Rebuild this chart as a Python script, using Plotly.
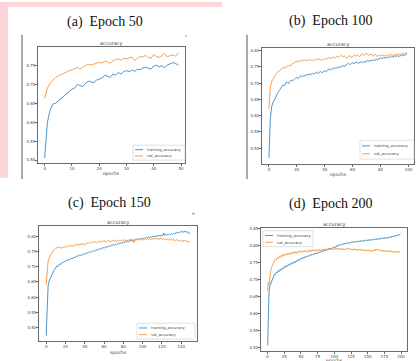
import plotly.graph_objects as go

# ---------------- data ----------------
panel_titles = ["(a)  Epoch 50", "(b)  Epoch 100", "(c)  Epoch 150", "(d)  Epoch 200"]
series_names = ["training_accuracy", "val_accuracy"]

train_a = [0.505, 0.600, 0.632, 0.648, 0.650, 0.656, 0.664, 0.670, 0.676, 0.680,
           0.687, 0.690, 0.700, 0.696, 0.694, 0.703, 0.708, 0.706, 0.704, 0.711,
           0.714, 0.716, 0.724, 0.720, 0.718, 0.727, 0.724, 0.731, 0.727, 0.734,
           0.736, 0.733, 0.738, 0.734, 0.740, 0.738, 0.743, 0.745, 0.742, 0.740,
           0.748, 0.750, 0.746, 0.749, 0.744, 0.751, 0.754, 0.757, 0.755, 0.750]
val_a = [0.663, 0.690, 0.703, 0.712, 0.718, 0.722, 0.726, 0.728, 0.733, 0.736,
         0.738, 0.741, 0.745, 0.740, 0.746, 0.750, 0.752, 0.751, 0.753, 0.755,
         0.758, 0.756, 0.761, 0.759, 0.755, 0.762, 0.764, 0.767, 0.763, 0.769,
         0.767, 0.770, 0.772, 0.762, 0.769, 0.773, 0.772, 0.776, 0.771, 0.769,
         0.778, 0.773, 0.771, 0.776, 0.781, 0.772, 0.776, 0.777, 0.774, 0.783]

train_b = [0.470, 0.590, 0.628, 0.642, 0.648, 0.660, 0.668, 0.676, 0.680, 0.688,
           0.694, 0.692, 0.700, 0.703, 0.698, 0.706, 0.709, 0.707, 0.712, 0.715,
           0.718, 0.714, 0.720, 0.723, 0.719, 0.724, 0.722, 0.727, 0.725, 0.728,
           0.726, 0.730, 0.728, 0.731, 0.734, 0.730, 0.733, 0.736, 0.732, 0.737,
           0.739, 0.735, 0.741, 0.744, 0.740, 0.743, 0.747, 0.744, 0.748, 0.746,
           0.750, 0.748, 0.752, 0.755, 0.751, 0.756, 0.758, 0.761, 0.757, 0.760,
           0.763, 0.760, 0.762, 0.765, 0.761, 0.764, 0.766, 0.763, 0.767, 0.765,
           0.768, 0.770, 0.766, 0.771, 0.769, 0.772, 0.770, 0.774, 0.772, 0.776,
           0.778, 0.775, 0.779, 0.777, 0.780, 0.778, 0.781, 0.779, 0.783, 0.780,
           0.784, 0.782, 0.785, 0.781, 0.786, 0.784, 0.787, 0.785, 0.789, 0.791]
val_b = [0.622, 0.688, 0.705, 0.714, 0.722, 0.728, 0.733, 0.737, 0.740, 0.744,
         0.747, 0.749, 0.746, 0.752, 0.755, 0.753, 0.758, 0.760, 0.762, 0.765,
         0.768, 0.764, 0.770, 0.767, 0.771, 0.769, 0.772, 0.768, 0.771, 0.773,
         0.770, 0.772, 0.769, 0.773, 0.775, 0.771, 0.774, 0.772, 0.770, 0.774,
         0.776, 0.773, 0.777, 0.779, 0.775, 0.778, 0.781, 0.777, 0.780, 0.783,
         0.779, 0.782, 0.786, 0.781, 0.784, 0.780, 0.777, 0.782, 0.785, 0.779,
         0.783, 0.786, 0.782, 0.788, 0.784, 0.781, 0.787, 0.791, 0.786, 0.789,
         0.792, 0.788, 0.785, 0.790, 0.787, 0.783, 0.789, 0.786, 0.782, 0.787,
         0.784, 0.788, 0.785, 0.783, 0.787, 0.784, 0.789, 0.786, 0.788, 0.785,
         0.789, 0.787, 0.790, 0.788, 0.791, 0.789, 0.792, 0.790, 0.793, 0.794]

train_c = [0.474, 0.600, 0.638, 0.652, 0.660, 0.668, 0.675, 0.682, 0.688, 0.692,
           0.698, 0.702, 0.700, 0.706, 0.709, 0.707, 0.712, 0.715, 0.713, 0.717,
           0.720, 0.718, 0.722, 0.725, 0.721, 0.726, 0.728, 0.725, 0.730, 0.732,
           0.729, 0.733, 0.736, 0.734, 0.737, 0.739, 0.736, 0.740, 0.742, 0.739,
           0.743, 0.745, 0.742, 0.746, 0.748, 0.745, 0.749, 0.751, 0.748, 0.752,
           0.754, 0.751, 0.755, 0.757, 0.754, 0.758, 0.760, 0.757, 0.761, 0.763,
           0.760, 0.764, 0.766, 0.763, 0.767, 0.769, 0.766, 0.770, 0.768, 0.771,
           0.773, 0.770, 0.774, 0.772, 0.775, 0.777, 0.774, 0.778, 0.776, 0.779,
           0.781, 0.778, 0.782, 0.780, 0.783, 0.781, 0.784, 0.786, 0.783, 0.787,
           0.785, 0.788, 0.786, 0.789, 0.791, 0.788, 0.792, 0.790, 0.793, 0.791,
           0.794, 0.792, 0.795, 0.793, 0.796, 0.794, 0.797, 0.795, 0.798, 0.796,
           0.799, 0.797, 0.800, 0.798, 0.801, 0.799, 0.802, 0.800, 0.803, 0.801,
           0.804, 0.802, 0.810, 0.803, 0.805, 0.803, 0.806, 0.804, 0.807, 0.805,
           0.808, 0.806, 0.809, 0.807, 0.810, 0.812, 0.809, 0.813, 0.811, 0.814,
           0.816, 0.812, 0.815, 0.813, 0.817, 0.814, 0.812, 0.815, 0.811, 0.806]
val_c = [0.640, 0.698, 0.718, 0.728, 0.735, 0.742, 0.747, 0.751, 0.755, 0.758,
         0.762, 0.760, 0.764, 0.761, 0.765, 0.763, 0.760, 0.764, 0.762, 0.766,
         0.763, 0.767, 0.765, 0.768, 0.766, 0.770, 0.767, 0.765, 0.769, 0.772,
         0.768, 0.771, 0.774, 0.770, 0.773, 0.771, 0.775, 0.772, 0.776, 0.774,
         0.770, 0.775, 0.778, 0.776, 0.779, 0.777, 0.780, 0.778, 0.781, 0.779,
         0.782, 0.780, 0.778, 0.781, 0.783, 0.780, 0.784, 0.781, 0.785, 0.782,
         0.786, 0.783, 0.780, 0.784, 0.787, 0.783, 0.781, 0.785, 0.782, 0.786,
         0.783, 0.787, 0.784, 0.782, 0.786, 0.783, 0.787, 0.785, 0.788, 0.784,
         0.786, 0.789, 0.785, 0.787, 0.784, 0.788, 0.786, 0.789, 0.787, 0.790,
         0.785, 0.778, 0.788, 0.791, 0.786, 0.789, 0.792, 0.787, 0.790, 0.788,
         0.791, 0.787, 0.790, 0.792, 0.788, 0.791, 0.789, 0.793, 0.790, 0.788,
         0.792, 0.789, 0.791, 0.794, 0.790, 0.793, 0.789, 0.792, 0.790, 0.794,
         0.791, 0.788, 0.792, 0.789, 0.791, 0.787, 0.790, 0.788, 0.791, 0.787,
         0.789, 0.786, 0.790, 0.787, 0.785, 0.789, 0.786, 0.788, 0.784, 0.787,
         0.785, 0.782, 0.786, 0.783, 0.787, 0.784, 0.781, 0.785, 0.782, 0.779]

train_d = [0.505, 0.620, 0.660, 0.678, 0.683, 0.690, 0.696, 0.701, 0.706, 0.710,
           0.714, 0.712, 0.717, 0.720, 0.718, 0.722, 0.725, 0.722, 0.727, 0.729,
           0.726, 0.731, 0.733, 0.730, 0.735, 0.737, 0.734, 0.738, 0.740, 0.737,
           0.741, 0.743, 0.740, 0.744, 0.746, 0.743, 0.747, 0.749, 0.746, 0.750,
           0.752, 0.749, 0.753, 0.751, 0.755, 0.757, 0.754, 0.758, 0.756, 0.760,
           0.762, 0.759, 0.763, 0.761, 0.765, 0.763, 0.766, 0.764, 0.768, 0.766,
           0.769, 0.767, 0.770, 0.768, 0.772, 0.770, 0.773, 0.771, 0.774, 0.772,
           0.776, 0.774, 0.777, 0.775, 0.778, 0.776, 0.780, 0.778, 0.781, 0.779,
           0.782, 0.780, 0.783, 0.781, 0.785, 0.783, 0.786, 0.784, 0.787, 0.785,
           0.788, 0.786, 0.790, 0.788, 0.791, 0.789, 0.792, 0.790, 0.794, 0.792,
           0.795, 0.793, 0.797, 0.795, 0.799, 0.797, 0.801, 0.799, 0.802, 0.800,
           0.803, 0.801, 0.804, 0.802, 0.805, 0.803, 0.806, 0.804, 0.807, 0.805,
           0.808, 0.806, 0.807, 0.805, 0.809, 0.807, 0.810, 0.808, 0.811, 0.809,
           0.810, 0.808, 0.812, 0.810, 0.811, 0.809, 0.813, 0.811, 0.812, 0.810,
           0.814, 0.812, 0.813, 0.811, 0.815, 0.813, 0.814, 0.812, 0.816, 0.814,
           0.815, 0.813, 0.817, 0.815, 0.816, 0.814, 0.818, 0.816, 0.817, 0.815,
           0.819, 0.817, 0.818, 0.816, 0.820, 0.818, 0.819, 0.817, 0.821, 0.819,
           0.820, 0.818, 0.822, 0.820, 0.821, 0.819, 0.823, 0.821, 0.822, 0.820,
           0.824, 0.822, 0.823, 0.821, 0.825, 0.823, 0.826, 0.824, 0.827, 0.825,
           0.828, 0.826, 0.829, 0.827, 0.830, 0.828, 0.831, 0.829, 0.832, 0.834]
val_d = [0.665, 0.690, 0.682, 0.705, 0.718, 0.728, 0.735, 0.741, 0.746, 0.750,
         0.754, 0.757, 0.760, 0.757, 0.762, 0.765, 0.761, 0.766, 0.768, 0.764,
         0.769, 0.771, 0.767, 0.772, 0.769, 0.773, 0.770, 0.774, 0.771, 0.775,
         0.772, 0.776, 0.773, 0.777, 0.774, 0.778, 0.775, 0.779, 0.776, 0.780,
         0.777, 0.781, 0.778, 0.775, 0.780, 0.782, 0.779, 0.783, 0.780, 0.778,
         0.782, 0.784, 0.781, 0.779, 0.783, 0.780, 0.784, 0.782, 0.785, 0.781,
         0.779, 0.783, 0.786, 0.782, 0.785, 0.781, 0.784, 0.787, 0.783, 0.786,
         0.782, 0.785, 0.788, 0.784, 0.786, 0.783, 0.787, 0.785, 0.788, 0.784,
         0.787, 0.789, 0.785, 0.788, 0.786, 0.789, 0.787, 0.790, 0.786, 0.789,
         0.787, 0.790, 0.788, 0.791, 0.787, 0.790, 0.788, 0.791, 0.789, 0.786,
         0.790, 0.788, 0.791, 0.789, 0.792, 0.788, 0.790, 0.787, 0.791, 0.789,
         0.786, 0.790, 0.788, 0.791, 0.787, 0.789, 0.786, 0.790, 0.788, 0.791,
         0.789, 0.792, 0.788, 0.790, 0.787, 0.789, 0.786, 0.788, 0.785, 0.789,
         0.787, 0.790, 0.786, 0.788, 0.785, 0.787, 0.784, 0.788, 0.786, 0.789,
         0.785, 0.787, 0.784, 0.786, 0.783, 0.787, 0.785, 0.782, 0.786, 0.784,
         0.787, 0.783, 0.785, 0.782, 0.786, 0.784, 0.781, 0.785, 0.783, 0.786,
         0.784, 0.788, 0.785, 0.789, 0.786, 0.788, 0.785, 0.787, 0.784, 0.786,
         0.783, 0.785, 0.782, 0.786, 0.784, 0.781, 0.785, 0.783, 0.780, 0.784,
         0.782, 0.785, 0.781, 0.783, 0.780, 0.784, 0.782, 0.779, 0.783, 0.781,
         0.778, 0.782, 0.780, 0.783, 0.779, 0.781, 0.778, 0.782, 0.780, 0.779]

x_dticks = [10, 20, 20, 25]

# ---------------- layout helpers ----------------
W, H = 416, 361
def px(x):
    return x / W
def py(y):
    return 1 - y / H

BLUE = "#4f95cc"
ORANGE = "#f8a150"
SPINE = "#6a6a6a"
TXT = "#444444"
SMALL = dict(family="DejaVu Sans", size=4, color=TXT)

# axes box in pixels: (left, right, top, bottom), x range, y range
panels = [
    dict(box=(38, 185, 45, 162), xr=[-2.45, 51.45], yr=[0.492, 0.799],
         title=(105, 20), leg=(133, 185, 144, 159), xlab=172),
    dict(box=(262, 414, 46, 163), xr=[-4.95, 103.95], yr=[0.451, 0.809],
         title=(331, 19), leg=(360, 414, 139, 158), xlab=173),
    dict(box=(39, 197, 225, 341), xr=[-7.45, 156.45], yr=[0.456, 0.834],
         title=(109, 202), leg=(137, 195, 323, 339), xlab=352),
    dict(box=(261, 407, 227, 351), xr=[-9.95, 208.95], yr=[0.4885, 0.8515],
         title=(331, 203), leg=(263, 313, 230, 246), xlab=360.5),
]
series = [(train_a, val_a), (train_b, val_b), (train_c, val_c), (train_d, val_d)]

fig = go.Figure()
shapes = []
annotations = []

def note(text, x, y, size, family="DejaVu Sans", color=TXT, xanchor="center",
         yanchor="middle"):
    annotations.append(dict(text=text, x=px(x), y=py(y), xref="paper", yref="paper",
                            showarrow=False, xanchor=xanchor, yanchor=yanchor,
                            font=dict(family=family, size=size, color=color)))

# pink highlight frame (page background)
PINK = "#fdd6da"
shapes.append(dict(type="rect", xref="paper", yref="paper", x0=px(0), x1=px(222),
                   y0=py(5), y1=py(0), fillcolor=PINK, line=dict(width=0), layer="below"))
shapes.append(dict(type="rect", xref="paper", yref="paper", x0=px(0), x1=px(8),
                   y0=py(177), y1=py(0), fillcolor=PINK, line=dict(width=0), layer="below"))
# page edge lines in the upper panels
for lx in (22, 247):
    shapes.append(dict(type="line", xref="paper", yref="paper", x0=px(lx), x1=px(lx),
                       y0=py(178), y1=py(33), line=dict(color="#555555", width=1)))

for i, (p, (tr, va)) in enumerate(zip(panels, series)):
    n = i + 1
    xa = "x" if n == 1 else f"x{n}"
    ya = "y" if n == 1 else f"y{n}"
    l, r, t, b = p["box"]
    epochs_tr = list(range(len(tr)))
    epochs_va = list(range(len(va)))
    fig.add_trace(go.Scatter(x=epochs_tr, y=tr, mode="lines", name=series_names[0],
                             line=dict(color=BLUE, width=1), xaxis=xa, yaxis=ya,
                             showlegend=False))
    fig.add_trace(go.Scatter(x=epochs_va, y=va, mode="lines", name=series_names[1],
                             line=dict(color=ORANGE, width=1), xaxis=xa, yaxis=ya,
                             showlegend=False))
    axis_common = dict(showgrid=False, zeroline=False, showline=True, mirror=True,
                       linecolor=SPINE, linewidth=0.8, ticks="outside", ticklen=2,
                       tickwidth=0.6, tickcolor=SPINE, tickfont=SMALL)
    fig.layout[("xaxis" if n == 1 else f"xaxis{n}")] = dict(
        domain=[px(l), px(r)], range=p["xr"], anchor=ya, tick0=0, dtick=x_dticks[i],
        ticklabelstandoff=-1, **axis_common)
    fig.layout[("yaxis" if n == 1 else f"yaxis{n}")] = dict(
        domain=[py(b), py(t)], range=p["yr"], anchor=xa, tick0=0.5, dtick=0.05,
        tickformat=".2f", ticklabelstandoff=-1, **axis_common)

    # panel caption
    note(panel_titles[i], p["title"][0], p["title"][1], 14, family="Liberation Serif",
         color="#111111")
    # matplotlib axes title
    note("accuracy", (l + r) / 2, t - 3.5, 5)
    # x label
    note("epochs", (l + r) / 2, p["xlab"], 4.5)
    # legend box
    L0, L1, T0, B0 = p["leg"]
    shapes.append(dict(type="rect", xref="paper", yref="paper", x0=px(L0), x1=px(L1),
                       y0=py(B0), y1=py(T0), fillcolor="white",
                       line=dict(color="#cccccc", width=0.6)))
    rows = [T0 + (B0 - T0) * 0.3, T0 + (B0 - T0) * 0.72]
    for rowy, col, name in zip(rows, (BLUE, ORANGE), series_names):
        shapes.append(dict(type="line", xref="paper", yref="paper", x0=px(L0 + 2),
                           x1=px(L0 + 10), y0=py(rowy), y1=py(rowy),
                           line=dict(color=col, width=1)))
        note(name, L0 + 12, rowy, 3.8, xanchor="left")

# small stray marks from the scanned page
shapes.append(dict(type="line", xref="paper", yref="paper", x0=px(186), x1=px(186),
                   y0=py(35), y1=py(33), line=dict(color="#888888", width=1)))
shapes.append(dict(type="line", xref="paper", yref="paper", x0=px(192), x1=px(195),
                   y0=py(213), y1=py(213), line=dict(color="#888888", width=1)))

fig.update_layout(width=W, height=H, margin=dict(l=0, r=0, t=0, b=0),
                  paper_bgcolor="white", plot_bgcolor="white",
                  shapes=shapes, annotations=annotations, showlegend=False)

# remove the browser's default 8px page margin so the figure fills the window
fig.write_html("out.html", config={"displayModeBar": False},
               post_script="document.body.style.margin='0';document.body.style.overflow='hidden';")
